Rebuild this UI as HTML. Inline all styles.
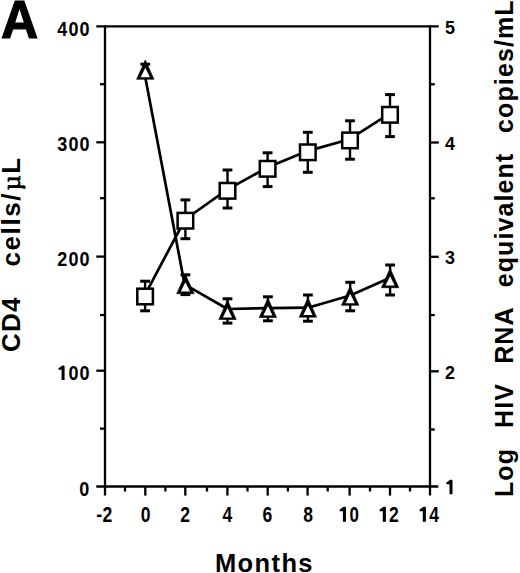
<!DOCTYPE html>
<html><head><meta charset="utf-8"><style>
html,body{margin:0;padding:0;background:#fff;}
body{width:520px;height:573px;overflow:hidden;position:relative;}
svg{position:absolute;left:0;top:0;}
text{font-family:"Liberation Sans",sans-serif;font-weight:bold;fill:#000;}
</style></head><body>
<svg width="520" height="573" viewBox="0 0 520 573">
<g stroke="#000" stroke-linecap="butt">
<line x1="96.3" y1="26.4" x2="438.8" y2="26.4" stroke-width="2.3"/>
<line x1="96.3" y1="486.5" x2="438.3" y2="486.5" stroke-width="2.3"/>
<line x1="105" y1="25.3" x2="105" y2="495.6" stroke-width="2.3"/>
<line x1="430" y1="25.3" x2="430" y2="495.6" stroke-width="2.3"/>
<line x1="96.3" y1="142.3" x2="105" y2="142.3" stroke-width="2.3"/>
<line x1="96.3" y1="256.6" x2="105" y2="256.6" stroke-width="2.3"/>
<line x1="96.3" y1="370.7" x2="105" y2="370.7" stroke-width="2.3"/>
<line x1="100" y1="84.2" x2="105" y2="84.2" stroke-width="2.3"/>
<line x1="100" y1="198.2" x2="105" y2="198.2" stroke-width="2.3"/>
<line x1="100" y1="315" x2="105" y2="315" stroke-width="2.3"/>
<line x1="100" y1="428.6" x2="105" y2="428.6" stroke-width="2.3"/>
<line x1="430" y1="142.5" x2="438.8" y2="142.5" stroke-width="2.3"/>
<line x1="430" y1="256.8" x2="438.8" y2="256.8" stroke-width="2.3"/>
<line x1="430" y1="371.3" x2="438.8" y2="371.3" stroke-width="2.3"/>
<line x1="430" y1="84.3" x2="434.8" y2="84.3" stroke-width="2.3"/>
<line x1="430" y1="198.3" x2="434.8" y2="198.3" stroke-width="2.3"/>
<line x1="430" y1="315.1" x2="434.8" y2="315.1" stroke-width="2.3"/>
<line x1="430" y1="429.5" x2="434.8" y2="429.5" stroke-width="2.3"/>
<line x1="125" y1="486.5" x2="125" y2="491.5" stroke-width="2.3"/>
<line x1="145.3" y1="486.5" x2="145.3" y2="495.6" stroke-width="2.3"/>
<line x1="165.4" y1="486.5" x2="165.4" y2="491.5" stroke-width="2.3"/>
<line x1="185.3" y1="486.5" x2="185.3" y2="495.6" stroke-width="2.3"/>
<line x1="207" y1="486.5" x2="207" y2="491.5" stroke-width="2.3"/>
<line x1="227.4" y1="486.5" x2="227.4" y2="495.6" stroke-width="2.3"/>
<line x1="247.5" y1="486.5" x2="247.5" y2="491.5" stroke-width="2.3"/>
<line x1="267.7" y1="486.5" x2="267.7" y2="495.6" stroke-width="2.3"/>
<line x1="287.9" y1="486.5" x2="287.9" y2="491.5" stroke-width="2.3"/>
<line x1="307.6" y1="486.5" x2="307.6" y2="495.6" stroke-width="2.3"/>
<line x1="327.7" y1="486.5" x2="327.7" y2="491.5" stroke-width="2.3"/>
<line x1="349.6" y1="486.5" x2="349.6" y2="495.6" stroke-width="2.3"/>
<line x1="370" y1="486.5" x2="370" y2="491.5" stroke-width="2.3"/>
<line x1="390" y1="486.5" x2="390" y2="495.6" stroke-width="2.3"/>
<line x1="410" y1="486.5" x2="410" y2="491.5" stroke-width="2.3"/>
</g>
<g stroke="#000">
<polyline fill="none" stroke-width="2.7" stroke-linejoin="round" points="144.7,295.3 185.0,219.5 227.1,189.6 267.2,167.6 307.4,151.1 349.6,139.2 389.6,113.6"/>
<polyline fill="none" stroke-width="2.7" stroke-linejoin="round" points="144.0,70.4 184.6,284.4 227.5,309.0 267.9,308.2 307.9,307.7 350.2,295.5 390.1,277.8"/>
<line x1="145.1" y1="281.2" x2="145.1" y2="310.8" stroke-width="2.4"/>
<line x1="140.2" y1="281.2" x2="150.0" y2="281.2" stroke-width="3.0"/>
<line x1="140.2" y1="310.8" x2="150.0" y2="310.8" stroke-width="3.0"/>
<line x1="185.4" y1="199.9" x2="185.4" y2="238.7" stroke-width="2.4"/>
<line x1="180.5" y1="199.9" x2="190.3" y2="199.9" stroke-width="3.0"/>
<line x1="180.5" y1="238.7" x2="190.3" y2="238.7" stroke-width="3.0"/>
<line x1="227.5" y1="170" x2="227.5" y2="208" stroke-width="2.4"/>
<line x1="222.6" y1="170" x2="232.4" y2="170" stroke-width="3.0"/>
<line x1="222.6" y1="208" x2="232.4" y2="208" stroke-width="3.0"/>
<line x1="267.6" y1="152.8" x2="267.6" y2="186.6" stroke-width="2.4"/>
<line x1="262.70000000000005" y1="152.8" x2="272.5" y2="152.8" stroke-width="3.0"/>
<line x1="262.70000000000005" y1="186.6" x2="272.5" y2="186.6" stroke-width="3.0"/>
<line x1="307.8" y1="132.3" x2="307.8" y2="172.3" stroke-width="2.4"/>
<line x1="302.90000000000003" y1="132.3" x2="312.7" y2="132.3" stroke-width="3.0"/>
<line x1="302.90000000000003" y1="172.3" x2="312.7" y2="172.3" stroke-width="3.0"/>
<line x1="350" y1="120.8" x2="350" y2="159.2" stroke-width="2.4"/>
<line x1="345.1" y1="120.8" x2="354.9" y2="120.8" stroke-width="3.0"/>
<line x1="345.1" y1="159.2" x2="354.9" y2="159.2" stroke-width="3.0"/>
<line x1="390" y1="94.6" x2="390" y2="136.6" stroke-width="2.4"/>
<line x1="385.1" y1="94.6" x2="394.9" y2="94.6" stroke-width="3.0"/>
<line x1="385.1" y1="136.6" x2="394.9" y2="136.6" stroke-width="3.0"/>
<line x1="145.3" y1="64.2" x2="145.3" y2="77.3" stroke-width="2.4"/>
<line x1="140.4" y1="64.2" x2="150.20000000000002" y2="64.2" stroke-width="3.0"/>
<line x1="140.4" y1="77.3" x2="150.20000000000002" y2="77.3" stroke-width="3.0"/>
<line x1="185.4" y1="274.8" x2="185.4" y2="294.6" stroke-width="2.4"/>
<line x1="180.5" y1="274.8" x2="190.3" y2="274.8" stroke-width="3.0"/>
<line x1="180.5" y1="294.6" x2="190.3" y2="294.6" stroke-width="3.0"/>
<line x1="227.5" y1="298.8" x2="227.5" y2="323.1" stroke-width="2.4"/>
<line x1="222.6" y1="298.8" x2="232.4" y2="298.8" stroke-width="3.0"/>
<line x1="222.6" y1="323.1" x2="232.4" y2="323.1" stroke-width="3.0"/>
<line x1="267.9" y1="296.8" x2="267.9" y2="320.8" stroke-width="2.4"/>
<line x1="263.0" y1="296.8" x2="272.79999999999995" y2="296.8" stroke-width="3.0"/>
<line x1="263.0" y1="320.8" x2="272.79999999999995" y2="320.8" stroke-width="3.0"/>
<line x1="307.9" y1="295" x2="307.9" y2="321.2" stroke-width="2.4"/>
<line x1="303.0" y1="295" x2="312.79999999999995" y2="295" stroke-width="3.0"/>
<line x1="303.0" y1="321.2" x2="312.79999999999995" y2="321.2" stroke-width="3.0"/>
<line x1="350.2" y1="282.3" x2="350.2" y2="310.8" stroke-width="2.4"/>
<line x1="345.3" y1="282.3" x2="355.09999999999997" y2="282.3" stroke-width="3.0"/>
<line x1="345.3" y1="310.8" x2="355.09999999999997" y2="310.8" stroke-width="3.0"/>
<line x1="390.1" y1="265" x2="390.1" y2="295" stroke-width="2.4"/>
<line x1="385.20000000000005" y1="265" x2="395.0" y2="265" stroke-width="3.0"/>
<line x1="385.20000000000005" y1="295" x2="395.0" y2="295" stroke-width="3.0"/>
<rect x="137.29999999999998" y="288.7" width="15.6" height="15.6" fill="#fff" stroke-width="2.5"/>
<rect x="177.6" y="212.89999999999998" width="15.6" height="15.6" fill="#fff" stroke-width="2.5"/>
<rect x="219.7" y="183.0" width="15.6" height="15.6" fill="#fff" stroke-width="2.5"/>
<rect x="259.8" y="161.0" width="15.6" height="15.6" fill="#fff" stroke-width="2.5"/>
<rect x="300.0" y="144.5" width="15.6" height="15.6" fill="#fff" stroke-width="2.5"/>
<rect x="342.2" y="132.6" width="15.6" height="15.6" fill="#fff" stroke-width="2.5"/>
<rect x="382.2" y="107.0" width="15.6" height="15.6" fill="#fff" stroke-width="2.5"/>
<polygon points="145.3,59.90 154.00,79.30 136.60,79.30" fill="#000" stroke-width="0.6" stroke-linejoin="round"/>
<polygon points="145.3,67.80 149.90,77.20 140.70,77.20" fill="#fff" stroke="none"/>
<polygon points="185.4,274.30 194.10,293.70 176.70,293.70" fill="#000" stroke-width="0.6" stroke-linejoin="round"/>
<polygon points="185.4,282.20 190.00,291.60 180.80,291.60" fill="#fff" stroke="none"/>
<polygon points="227.5,300.10 236.20,319.50 218.80,319.50" fill="#000" stroke-width="0.6" stroke-linejoin="round"/>
<polygon points="227.5,308.00 232.10,317.40 222.90,317.40" fill="#fff" stroke="none"/>
<polygon points="267.9,298.10 276.60,317.50 259.20,317.50" fill="#000" stroke-width="0.6" stroke-linejoin="round"/>
<polygon points="267.9,306.00 272.50,315.40 263.30,315.40" fill="#fff" stroke="none"/>
<polygon points="307.9,297.80 316.60,317.20 299.20,317.20" fill="#000" stroke-width="0.6" stroke-linejoin="round"/>
<polygon points="307.9,305.70 312.50,315.10 303.30,315.10" fill="#fff" stroke="none"/>
<polygon points="350.2,285.90 358.90,305.30 341.50,305.30" fill="#000" stroke-width="0.6" stroke-linejoin="round"/>
<polygon points="350.2,293.80 354.80,303.20 345.60,303.20" fill="#fff" stroke="none"/>
<polygon points="390.1,268.30 398.80,287.70 381.40,287.70" fill="#000" stroke-width="0.6" stroke-linejoin="round"/>
<polygon points="390.1,276.20 394.70,285.60 385.50,285.60" fill="#fff" stroke="none"/>
</g>
<g font-size="20">
<text transform="translate(62.3,35.9) scale(0.9,1)" text-anchor="middle">4</text>
<text transform="translate(73.4,35.9) scale(0.9,1)" text-anchor="middle">0</text>
<text transform="translate(84.5,35.9) scale(0.9,1)" text-anchor="middle">0</text>
<text transform="translate(62.3,151.3) scale(0.9,1)" text-anchor="middle">3</text>
<text transform="translate(73.4,151.3) scale(0.9,1)" text-anchor="middle">0</text>
<text transform="translate(84.5,151.3) scale(0.9,1)" text-anchor="middle">0</text>
<text transform="translate(62.3,265.6) scale(0.9,1)" text-anchor="middle">2</text>
<text transform="translate(73.4,265.6) scale(0.9,1)" text-anchor="middle">0</text>
<text transform="translate(84.5,265.6) scale(0.9,1)" text-anchor="middle">0</text>
<path transform="translate(64.6,379.9)" d="M0,0 V-13.6 Q0,-14.5 -0.9,-14.5 H-2.2 L-6.1,-11.7 V-10.1 L-3.0,-10.1 V0 Z"/>
<text transform="translate(73.4,379.9) scale(0.9,1)" text-anchor="middle">0</text>
<text transform="translate(84.5,379.9) scale(0.9,1)" text-anchor="middle">0</text>
<text transform="translate(84.3,496) scale(0.9,1)" text-anchor="middle">0</text>
<text transform="translate(450.0,33.9) scale(0.95,1)" text-anchor="middle" font-size="18.9">5</text>
<text transform="translate(450.0,149.6) scale(0.95,1)" text-anchor="middle" font-size="18.9">4</text>
<text transform="translate(450.0,264.3) scale(0.95,1)" text-anchor="middle" font-size="18.9">3</text>
<text transform="translate(450.0,378.5) scale(0.95,1)" text-anchor="middle" font-size="18.9">2</text>
<path transform="translate(452.5,494.3)" d="M0,0 V-13.6 Q0,-14.5 -0.9,-14.5 H-2.2 L-6.1,-11.7 V-10.1 L-3.0,-10.1 V0 Z"/>
<text transform="translate(99.3,520.5) scale(0.9,1)" text-anchor="middle">-</text>
<text transform="translate(107.5,521.7) scale(0.82,1)" text-anchor="middle" font-size="21.4">2</text>
<text transform="translate(145.7,521.7) scale(0.82,1)" text-anchor="middle" font-size="21.4">0</text>
<text transform="translate(185.2,521.7) scale(0.82,1)" text-anchor="middle" font-size="21.4">2</text>
<text transform="translate(227.4,521.7) scale(0.82,1)" text-anchor="middle" font-size="21.4">4</text>
<text transform="translate(267.5,521.7) scale(0.82,1)" text-anchor="middle" font-size="21.4">6</text>
<text transform="translate(308.1,521.7) scale(0.82,1)" text-anchor="middle" font-size="21.4">8</text>
<path transform="translate(346.0,521.7) scale(1.035)" d="M0,0 V-13.6 Q0,-14.5 -0.9,-14.5 H-2.2 L-6.1,-11.7 V-10.1 L-3.0,-10.1 V0 Z"/>
<text transform="translate(354.2,521.7) scale(0.79,1)" text-anchor="middle" font-size="21.4">0</text>
<path transform="translate(385.9,521.7) scale(1.035)" d="M0,0 V-13.6 Q0,-14.5 -0.9,-14.5 H-2.2 L-6.1,-11.7 V-10.1 L-3.0,-10.1 V0 Z"/>
<text transform="translate(394.0,521.7) scale(0.82,1)" text-anchor="middle" font-size="21.4">2</text>
<path transform="translate(425.9,521.7) scale(1.035)" d="M0,0 V-13.6 Q0,-14.5 -0.9,-14.5 H-2.2 L-6.1,-11.7 V-10.1 L-3.0,-10.1 V0 Z"/>
<text transform="translate(434.1,521.7) scale(0.82,1)" text-anchor="middle" font-size="21.4">4</text>
</g>
<text transform="scale(0.965,1)" x="0.95" y="38.2" font-size="53.3" stroke="#000" stroke-width="1.2" stroke-linejoin="miter">A</text>
<text x="214.9" y="571.8" font-size="25.5" letter-spacing="1.4">Months</text>
<text transform="translate(20.3,352.0) rotate(-90)" font-size="26" letter-spacing="1.2">CD4</text>
<text transform="translate(20.3,266.5) rotate(-90)" font-size="26" letter-spacing="1.6">cells/<tspan font-family="Liberation Serif" font-weight="normal" dx="1.5" stroke="#000" stroke-width="0.7">&#181;</tspan>L</text>
<text transform="translate(513,497.0) rotate(-90)" font-size="25" letter-spacing="1.1">Log</text>
<text transform="translate(513,428.0) rotate(-90)" font-size="25" letter-spacing="1.1">HIV</text>
<text transform="translate(513,363.8) rotate(-90)" font-size="25" letter-spacing="1.1">RNA</text>
<text transform="translate(513,287.3) rotate(-90)" font-size="25" letter-spacing="1.1">equivalent</text>
<text transform="translate(513,132.9) rotate(-90)" font-size="25" letter-spacing="1.1">copies/mL</text>
</svg>
</body></html>
